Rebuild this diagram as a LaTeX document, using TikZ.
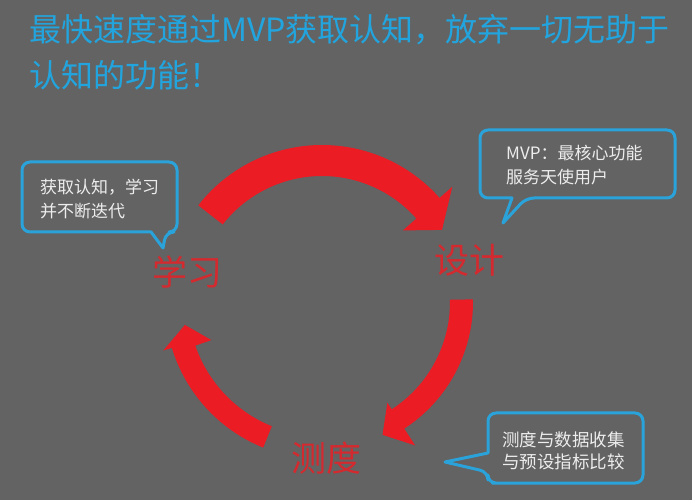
\documentclass[tikz,border=0pt]{standalone}
\usepackage{fontspec}
\setmainfont{Noto Sans CJK SC}
\newfontfamily\cjk{Noto Sans CJK SC}
\definecolor{bg}{HTML}{636363}
\definecolor{titlecyan}{HTML}{22A5DE}
\definecolor{bubblecyan}{HTML}{2AA3DB}
\definecolor{arrowred}{HTML}{EC1C24}
\definecolor{labelred}{HTML}{D42A2F}
\definecolor{bubbletext}{HTML}{EDEDED}
\tikzset{
  bubble/.style={draw=bubblecyan, line width=3pt, rounded corners=8pt, line join=round},
  bubbletxt/.style={text=bubbletext, inner sep=0pt, align=left, anchor=west, font=\cjk\fontsize{17}{23.5}\selectfont},
  steplabel/.style={text=labelred, inner sep=0pt, font=\cjk\fontsize{35}{40}\selectfont},
  cyclearrow/.style={fill=arrowred},
}
\begin{document}
\begin{tikzpicture}[x=1pt,y=1pt]
\fill[bg] (0,0) rectangle (692,500);
\useasboundingbox (0,0) rectangle (692,500);

% title
\node[text=titlecyan, inner sep=0pt, align=left, anchor=west,
      font=\cjk\fontsize{32}{46}\selectfont] (title) at (29,448)
  {最快速度通过MVP获取认知，放弃一切无助于\\认知的功能！};

% cycle arrows
\begin{scope}[shift={(322,198)}]
  % top arc: learn -> design
  \fill[cyclearrow] (142:157) arc[start angle=142, end angle=41.5, radius=157]
    -- (41.5:174) -- (31:140) -- (41.5:108) -- (41.5:126)
    arc[start angle=41.5, end angle=142, radius=126] -- cycle;
  % right arc: design -> measure
  \fill[cyclearrow] (1:151) arc[start angle=1, end angle=-57, radius=151]
    -- (-57:171) -- (-65.5:146) -- (-57:120) -- (-57:128)
    arc[start angle=-57, end angle=1, radius=128] -- cycle;
  % left arc: measure -> learn
  \fill[cyclearrow] (-112:157) arc[start angle=-112, end angle=-163, radius=157]
    -- (-163:166) -- (-170.5:139) -- (-161:117) -- (-161:134)
    arc[start angle=-161, end angle=-112, radius=134] -- cycle;
\end{scope}

% step labels
\node[steplabel] (learn) at (187,228) {学习};
\node[steplabel] (design) at (469,240) {设计};
\node[steplabel] (measure) at (326,42) {测度};

% bubble: learn
\draw[bubble] (22,300) |- (177,338) |- (166,268) [sharp corners] -- (163,252) -- (151,268) [rounded corners=8pt] -| (22,300) -- cycle;
\node[bubbletxt] (learnnote) at (40,301) {获取认知，学习\\并不断迭代};

% bubble: design
\draw[bubble] (480,336) |- (675,370) |- (526,302) [sharp corners] -- (503,277) -- (512,302) [rounded corners=8pt] -| (480,336) -- cycle;
\node[bubbletxt] (designnote) at (506,335) {MVP：最核心功能\\服务天使用户};

% bubble: measure
\draw[bubble] (488,47) |- (643,87) |- (500,17) -| (488,28) [sharp corners] -- (445,38) -- cycle;
\node[bubbletxt, font=\cjk\fontsize{17.5}{22.5}\selectfont] (measurenote) at (502,49) {测度与数据收集\\与预设指标比较};
\end{tikzpicture}
\end{document}
